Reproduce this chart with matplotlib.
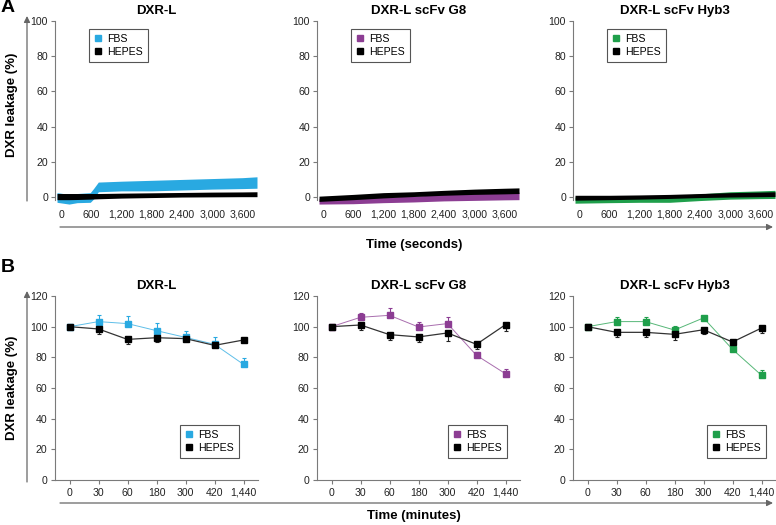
import matplotlib
matplotlib.use("Agg")
import matplotlib.pyplot as plt
from matplotlib.lines import Line2D
from matplotlib.patches import FancyArrowPatch
from matplotlib.ticker import FuncFormatter

plt.rcParams['font.family'] = ['Liberation Sans', 'DejaVu Sans']

# ---------------- data ----------------
titles = ["DXR-L", "DXR-L scFv G8", "DXR-L scFv Hyb3"]
fbs_colors = ["#29a9e1", "#8c3d93", "#1f9f4b"]
series_labels = ["FBS", "HEPES"]

# Panel A: envelopes (low/high) of the noisy kinetic traces
a_time_1 = [-80, 160, 320, 580, 650, 740, 1200, 1800, 2400, 3000, 3600, 3890]
a_fbs_low_1 = [-3.0, -4.0, -3.2, -3.0, -1.0, 3.0, 3.5, 3.5, 4.0, 4.5, 4.8, 5.0]
a_fbs_high_1 = [2.5, 1.5, 2.0, 2.5, 5.0, 8.5, 9.0, 9.5, 10.0, 10.5, 11.0, 11.5]
a_hep_low_1 = [-1.5, -1.5, -1.4, -1.2, -1.1, -1.0, -0.6, -0.3, 0.0, 0.1, 0.2, 0.2]
a_hep_high_1 = [2.0, 2.0, 2.0, 2.0, 2.0, 2.0, 2.2, 2.4, 2.6, 2.8, 2.9, 3.0]

a_time_2 = [-80, 600, 1200, 1800, 2400, 3000, 3600, 3890]
a_fbs_low_2 = [-4.0, -3.8, -3.2, -2.8, -2.2, -1.9, -1.6, -1.5]
a_fbs_high_2 = [-1.0, -0.5, 0.0, 0.5, 1.5, 2.0, 2.5, 2.8]
a_hep_low_2 = [-2.5, -1.5, -0.5, 0.3, 1.0, 1.5, 1.8, 2.0]
a_hep_high_2 = [0.5, 1.5, 2.5, 3.0, 3.8, 4.5, 5.0, 5.2]

a_time_3 = [-80, 600, 1200, 1800, 2400, 3000, 3600, 3890]
a_fbs_low_3 = [-3.5, -3.2, -3.0, -3.0, -2.0, -1.2, -0.9, -0.8]
a_fbs_high_3 = [0.0, 0.0, 0.2, 0.5, 1.8, 3.0, 3.5, 3.8]
a_hep_low_3 = [-1.8, -1.5, -1.2, -0.8, -0.3, 0.0, 0.2, 0.3]
a_hep_high_3 = [1.0, 1.0, 1.2, 1.5, 2.0, 2.5, 2.8, 3.0]

a_xticks = [0, 600, 1200, 1800, 2400, 3000, 3600]
a_yticks = [0, 20, 40, 60, 80, 100]

# Panel B: time-point values (%), with one-sided error bars
b_categories = ["0", "30", "60", "180", "300", "420", "1,440"]
b_yticks = [0, 20, 40, 60, 80, 100, 120]

b_fbs_1 = [100, 103.3, 102.0, 97.4, 93.0, 88.5, 75.4]
b_fbs_err_1 = [0, 4.0, 5.0, 5.0, 4.0, 5.0, 4.0]
b_hep_1 = [100, 98.5, 91.7, 92.8, 92.2, 87.8, 91.3]
b_hep_err_1 = [0, 3.5, 3.0, 3.0, 1.5, 1.0, 1.0]

b_fbs_2 = [100, 106.1, 107.4, 99.8, 102.0, 81.3, 69.3]
b_fbs_err_2 = [0, 3.0, 4.5, 3.5, 4.0, 2.5, 3.0]
b_hep_2 = [100, 101.1, 94.8, 93.3, 95.9, 88.5, 101.3]
b_hep_err_2 = [0, 3.3, 3.5, 3.5, 5.0, 3.0, 4.0]

b_fbs_3 = [100, 103.3, 103.3, 97.8, 105.7, 85.2, 68.3]
b_fbs_err_3 = [0, 3.0, 3.0, 2.5, 1.0, 1.0, 3.5]
b_hep_3 = [100, 96.3, 96.3, 95.0, 98.0, 90.0, 99.1]
b_hep_err_3 = [0, 3.3, 3.3, 4.0, 3.0, 1.0, 3.2]

# ---------------- layout ----------------
W, H = 776, 525
fig = plt.figure(figsize=(W / 100, H / 100), dpi=100)


def fx(px):
    return px / W


def fy(py):
    return 1 - py / H


lefts = [55, 317, 573]
ax_w = 203
spine_col = "#7a7a7a"
text_col = "#222222"
fs = 7.6

a_data = [
    (a_time_1, a_fbs_low_1, a_fbs_high_1, a_hep_low_1, a_hep_high_1),
    (a_time_2, a_fbs_low_2, a_fbs_high_2, a_hep_low_2, a_hep_high_2),
    (a_time_3, a_fbs_low_3, a_fbs_high_3, a_hep_low_3, a_hep_high_3),
]
b_data = [
    (b_fbs_1, b_fbs_err_1, b_hep_1, b_hep_err_1),
    (b_fbs_2, b_fbs_err_2, b_hep_2, b_hep_err_2),
    (b_fbs_3, b_fbs_err_3, b_hep_3, b_hep_err_3),
]
b_leg_x = [180, 448, 707]

fmt = FuncFormatter(lambda v, p: f"{int(v):,}")


def make_legend(ax, c, ax_x, ax_y):
    handles = [Line2D([], [], ls="none", marker="s", ms=5, color=c),
               Line2D([], [], ls="none", marker="s", ms=5, color="black")]
    leg = ax.legend(handles, series_labels, loc="upper left",
                    bbox_to_anchor=(ax_x, ax_y),
                    fontsize=fs, frameon=True, fancybox=False, framealpha=1,
                    edgecolor="#555555", handlelength=0.8, handletextpad=0.5,
                    borderpad=0.45, labelspacing=0.3, borderaxespad=0)
    leg.get_frame().set_linewidth(0.8)


# top row (A)
a_top, a_bot = 21, 207.6
for i in range(3):
    ax = fig.add_axes([fx(lefts[i]), fy(a_bot), fx(ax_w), (a_bot - a_top) / H])
    t, fl, fh, hl, hh = a_data[i]
    c = fbs_colors[i]
    ax.fill_between(t, fl, fh, color=c, lw=0, zorder=2)
    ax.fill_between(t, hl, hh, color="black", lw=0, zorder=3)
    ax.set_xlim(-120, 3910)
    ax.set_ylim(-6, 100)
    ax.set_xticks(a_xticks)
    ax.xaxis.set_major_formatter(fmt)
    ax.set_yticks(a_yticks)
    for s in ["top", "right", "bottom"]:
        ax.spines[s].set_visible(False)
    ax.spines["left"].set_color(spine_col)
    ax.spines["left"].set_linewidth(0.8)
    ax.spines["left"].set_bounds(-1.5, 100)
    ax.tick_params(axis="x", length=0, pad=1.5, labelsize=fs, colors=text_col)
    ax.tick_params(axis="y", length=3, width=0.8, color=spine_col, pad=2,
                   labelsize=fs, labelcolor=text_col)
    ax.set_title(titles[i], fontsize=9.5, fontweight="bold", pad=5, color="black")
    make_legend(ax, c, 34 / ax_w, (a_bot - 29) / (a_bot - a_top))

# bottom row (B)
b_top, b_bot = 296, 480
xs = list(range(len(b_categories)))
for i in range(3):
    ax = fig.add_axes([fx(lefts[i]), fy(b_bot), fx(ax_w), (b_bot - b_top) / H])
    fv, fe, hv, he = b_data[i]
    c = fbs_colors[i]
    ax.plot(xs, fv, color=c, lw=0.7, alpha=0.75, zorder=2)
    ax.errorbar(xs, fv, yerr=[[0] * len(fe), fe], fmt="none", ecolor=c,
                elinewidth=0.8, capsize=1.5, capthick=0.8, zorder=3)
    ax.plot(xs, fv, ls="none", marker="s", ms=4, color=c, zorder=4)
    ax.plot(xs, hv, color="#333333", lw=0.9, zorder=2)
    ax.errorbar(xs, hv, yerr=[he, [0] * len(he)], fmt="none", ecolor="#222222",
                elinewidth=0.8, capsize=1.5, capthick=0.8, zorder=3)
    ax.plot(xs, hv, ls="none", marker="s", ms=4, color="black", zorder=5)
    ax.set_xlim(-0.5, 6.5)
    ax.set_ylim(0, 120)
    ax.set_xticks(xs)
    ax.set_xticklabels(b_categories)
    ax.set_yticks(b_yticks)
    for s in ["top", "right"]:
        ax.spines[s].set_visible(False)
    for s in ["left", "bottom"]:
        ax.spines[s].set_color(spine_col)
        ax.spines[s].set_linewidth(0.8)
    ax.tick_params(axis="both", length=3, width=0.8, color=spine_col, pad=2.5,
                   labelsize=fs, labelcolor=text_col)
    ax.set_title(titles[i], fontsize=9.5, fontweight="bold", pad=5, color="black")
    make_legend(ax, c, (b_leg_x[i] - lefts[i]) / ax_w, (b_bot - 425) / (b_bot - b_top))

# arrows and labels
arrow_col = "#666666"


def arrow(p0, p1):
    fig.add_artist(FancyArrowPatch((fx(p0[0]), fy(p0[1])), (fx(p1[0]), fy(p1[1])),
                                   transform=fig.transFigure, arrowstyle="-|>",
                                   mutation_scale=9, color=arrow_col, lw=0.9,
                                   shrinkA=0, shrinkB=0))


arrow((27, 201), (27, 16))
arrow((60, 227), (773, 227))
arrow((27, 482), (27, 291))
arrow((60, 503), (773, 503))

fig.text(fx(12), fy(105), "DXR leakage (%)", rotation=90, ha="center", va="center",
         fontsize=9.5, fontweight="bold")
fig.text(fx(12), fy(388), "DXR leakage (%)", rotation=90, ha="center", va="center",
         fontsize=9.5, fontweight="bold")
fig.text(fx(414), fy(245), "Time (seconds)", ha="center", va="center",
         fontsize=9.5, fontweight="bold")
fig.text(fx(414), fy(516), "Time (minutes)", ha="center", va="center",
         fontsize=9.5, fontweight="bold")
fig.text(fx(1), fy(8), "A", ha="left", va="center", fontsize=14, fontweight="bold")
fig.text(fx(1), fy(268), "B", ha="left", va="center", fontsize=14, fontweight="bold")

fig.savefig("out.png", dpi=100)
